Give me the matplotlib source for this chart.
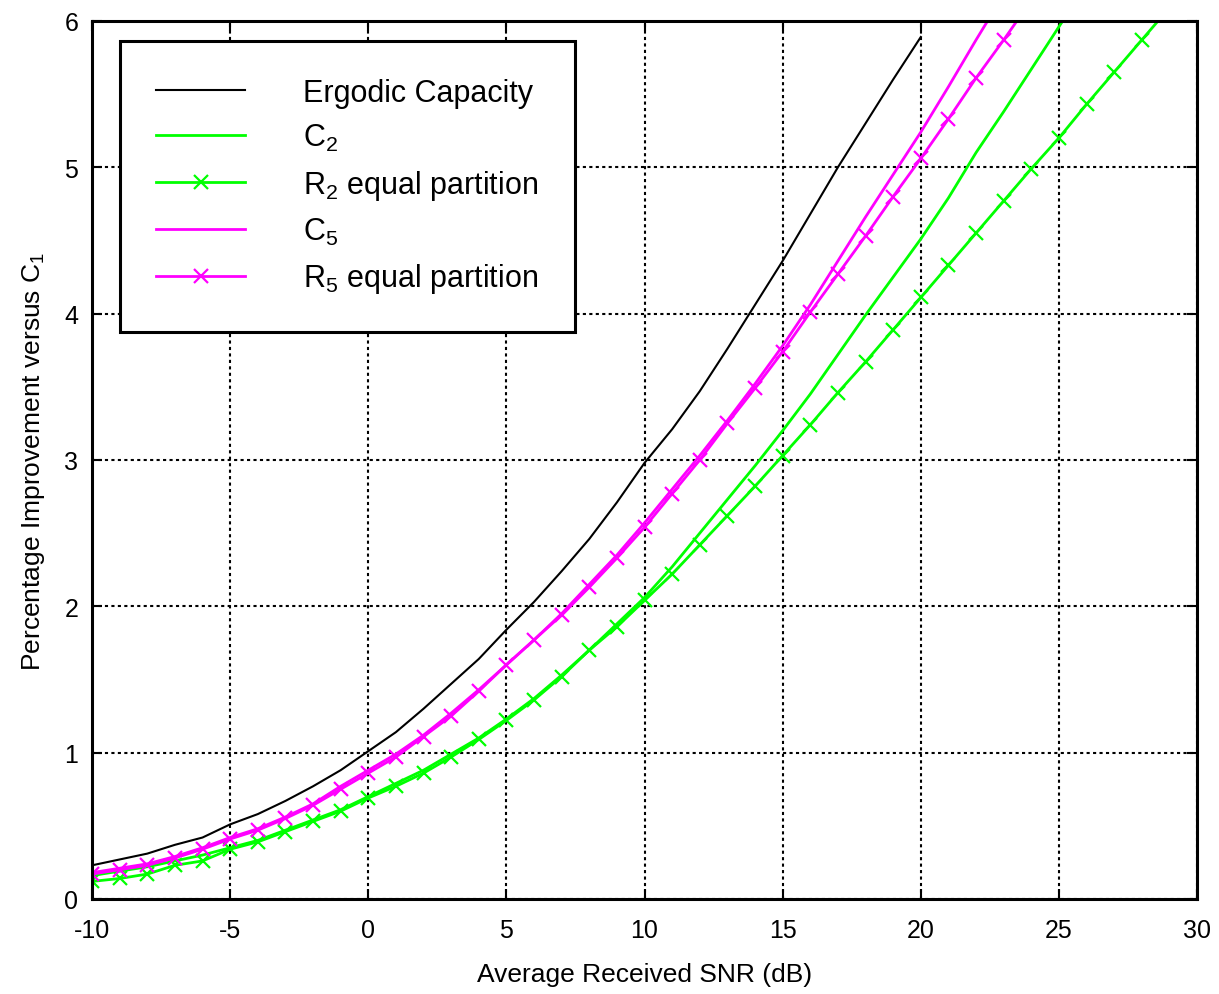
import numpy as np
import matplotlib
matplotlib.use("Agg")
import matplotlib.pyplot as plt

plt.rcParams['font.family'] = ['Liberation Sans', 'DejaVu Sans']
plt.rcParams['mathtext.default'] = 'regular'
plt.rcParams['axes.unicode_minus'] = False

# SNR grid (dB)
snr_ergodic = np.arange(-10, 21)
snr_c2 = np.arange(-10, 27)
snr_r2 = np.arange(-10, 30)
snr_c5 = np.arange(-10, 24)
snr_r5 = np.arange(-10, 25)

ergodic = [0.23, 0.27, 0.31, 0.37, 0.42, 0.51, 0.58, 0.67, 0.77, 0.88,
           1.01, 1.14, 1.30, 1.47, 1.64, 1.84, 2.03, 2.24, 2.46, 2.71,
           2.98, 3.21, 3.47, 3.76, 4.06, 4.36, 4.68, 5.00, 5.30, 5.60, 5.89]

c2 = [0.16, 0.19, 0.22, 0.26, 0.30, 0.35, 0.40, 0.47, 0.54, 0.61,
      0.70, 0.79, 0.88, 0.99, 1.10, 1.23, 1.37, 1.53, 1.70, 1.88,
      2.06, 2.27, 2.50, 2.73, 2.96, 3.20, 3.45, 3.72, 3.99, 4.25,
      4.51, 4.79, 5.10, 5.38, 5.67, 5.96, 6.25]

r2 = [0.12, 0.14, 0.17, 0.23, 0.26, 0.34, 0.39, 0.46, 0.53, 0.60,
      0.69, 0.77, 0.86, 0.97, 1.09, 1.22, 1.36, 1.52, 1.70, 1.86,
      2.04, 2.22, 2.42, 2.62, 2.82, 3.03, 3.24, 3.46, 3.67, 3.89,
      4.11, 4.33, 4.55, 4.77, 4.99, 5.20, 5.43, 5.65, 5.87, 6.09]

c5 = [0.18, 0.21, 0.24, 0.29, 0.35, 0.42, 0.48, 0.56, 0.65, 0.77,
      0.88, 0.99, 1.12, 1.27, 1.43, 1.60, 1.77, 1.95, 2.15, 2.35,
      2.57, 2.80, 3.03, 3.27, 3.52, 3.78, 4.06, 4.36, 4.66, 4.95,
      5.24, 5.55, 5.87, 6.18]

r5 = [0.17, 0.20, 0.23, 0.28, 0.34, 0.41, 0.47, 0.55, 0.64, 0.75,
      0.86, 0.97, 1.11, 1.25, 1.42, 1.60, 1.77, 1.94, 2.13, 2.33,
      2.54, 2.77, 3.00, 3.25, 3.49, 3.74, 4.01, 4.27, 4.53, 4.80,
      5.06, 5.33, 5.61, 5.87, 6.14]

labels = ['Ergodic Capacity', 'C$_2$', 'R$_2$ equal partition',
          'C$_5$', 'R$_5$ equal partition']

fig = plt.figure(figsize=(12.19, 9.95), dpi=100)
ax = fig.add_axes([0.0755, 0.0955, 0.9065, 0.8825])

green = '#00ff00'
magenta = '#ff00ff'
ax.plot(snr_ergodic, ergodic, color='black', lw=1.5, label=labels[0])
ax.plot(snr_c2, c2, color=green, lw=2, label=labels[1])
ax.plot(snr_r2, r2, color=green, lw=2, marker='x', ms=9.5, mew=1.6, label=labels[2])
ax.plot(snr_c5, c5, color=magenta, lw=2, label=labels[3])
ax.plot(snr_r5, r5, color=magenta, lw=2, marker='x', ms=9.5, mew=1.6, label=labels[4])

ax.set_xlim(-10, 30)
ax.set_ylim(0, 6)
ax.set_xticks(np.arange(-10, 31, 5))
ax.set_yticks(np.arange(0, 7, 1))
ax.tick_params(direction='in', top=True, right=True, labelsize=18, length=7, width=1.5)
ax.tick_params(axis='x', pad=14)
ax.tick_params(axis='y', pad=10)
ax.grid(True, color='black', linestyle=(0, (1.5, 1.6)), linewidth=1.5)
for s in ax.spines.values():
    s.set_linewidth(2.2)

ax.set_xlabel('Average Received SNR (dB)', fontsize=19, labelpad=14)
ax.set_ylabel('Percentage Improvement versus C$_1$', fontsize=19, labelpad=12)

leg = ax.legend(loc='upper left', bbox_to_anchor=(0.025, 0.977), fontsize=22,
                handlelength=2.9, handletextpad=1.9, borderpad=1.2,
                labelspacing=0.47, borderaxespad=0, fancybox=False,
                framealpha=1, edgecolor='black', numpoints=1)
leg.get_frame().set_linewidth(2.2)

fig.savefig('out.png', dpi=100)
